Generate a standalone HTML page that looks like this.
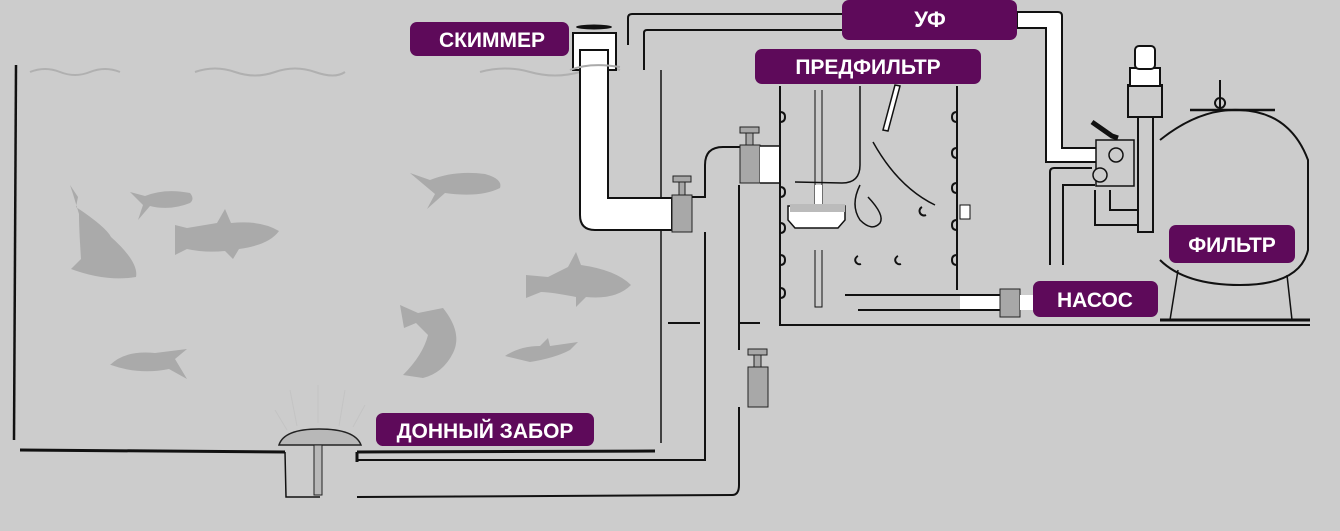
<!DOCTYPE html>
<html><head><meta charset="utf-8"><style>
html,body{margin:0;padding:0;background:#cccccc;}
svg{display:block}
.lb{font-family:"Liberation Sans",sans-serif;font-weight:bold;fill:#fff;}
</style></head><body>
<svg width="1340" height="531" viewBox="0 0 1340 531" xmlns="http://www.w3.org/2000/svg">
<rect width="1340" height="531" fill="#cccccc"/>
<g fill="none" stroke="#b0b0b0" stroke-width="2">
<path d="M30 72 q15-6 30 0 t30 0 t30 0"/>
<path d="M195 72 q20-7 40 0 t40 0 t40 0 t30 0"/>
<path d="M480 72 q25-7 50 0 t50 0 t40 -2"/>
</g>
<g fill="#aaaaaa">
<path d="M70 185 l8 12 l-2 10 q30 20 35 30 q28 25 25 40 q-30 5 -65 -8 l10 -10 q-2 -30 -2 -45 l-6 -20 z"/>
<path d="M130 192 l15 4 q20 -8 45 -3 q5 6 0 10 q-20 8 -40 3 l-12 14 l5 -15 z"/>
<path d="M175 225 l12 3 l30 -5 l8 -14 l6 14 q30 -3 48 8 q-10 14 -40 18 l-6 10 l-8 -8 q-20 2 -38 -2 l-12 6 z"/>
<path d="M410 173 l20 7 q25 -10 55 -6 q18 5 15 14 q-20 10 -55 5 l-18 16 l8 -15 z"/>
<path d="M526 275 l22 2 l20 -10 l8 -15 l5 13 q35 5 50 20 q-15 15 -45 12 l-10 10 l0 -10 q-25 -5 -35 -5 l-15 6 z"/>
<path d="M400 305 l18 8 l25 -5 q20 25 10 45 q-10 20 -30 25 l-20 -3 q20 -20 25 -40 l-12 -12 l-12 5 z"/>
<path d="M110 365 q15 -15 45 -12 l32 -4 l-12 10 l12 20 l-18 -10 q-30 6 -58 -4 z"/>
<path d="M505 356 q15 -10 35 -10 l8 -8 l2 8 l28 -4 l-8 8 q-15 8 -40 12 z"/>
</g>
<g stroke="#c4c4c4" stroke-width="1"><path d="M275 410 l12 20 M290 390 l7 36 M318 385 l0 38 M345 390 l-6 36 M365 405 l-12 22"/></g>
<g stroke="#111" fill="none">
<path d="M16 65 L14 440" stroke-width="2.5"/>
<path d="M20 450 L285 452" stroke-width="3"/>
<path d="M357 452 L655 451" stroke-width="3"/>
<path d="M285 452 L286 497 L320 497" stroke-width="1.5"/>
<path d="M357 452 L357 462" stroke-width="3"/>
</g>
<path d="M279 445 q5 -16 40 -16 q36 0 42 16 z" fill="#b8b8b8" stroke="#222" stroke-width="1.5"/>
<rect x="314" y="445" width="8" height="50" fill="#b8b8b8" stroke="#222" stroke-width="1"/>
<g stroke="#111" fill="none" stroke-width="2">
<path d="M357 460 L705 460 L705 232"/>
<path d="M357 497 L732 495 q7 0 7 -10 L739 407"/>
<path d="M739 350 L739 185"/>
<path d="M661 70 L661 443" stroke-width="1.5"/>
<path d="M668 323 L700 323 M740 323 L760 323" stroke-width="2"/>
</g>
<!-- skimmer -->
<ellipse cx="594" cy="27" rx="18" ry="2.5" fill="#111"/>
<rect x="573" y="33" width="43" height="37" fill="#fff" stroke="#111" stroke-width="2"/>
<path d="M580 50 L608 50 L608 198 L672 198 L672 230 L595 230 Q580 230 580 215 Z" fill="#fff" stroke="#111" stroke-width="2"/>
<path d="M570 70 q20 -8 50 -3" stroke="#aaa" stroke-width="2" fill="none"/>
<rect x="672" y="195" width="20" height="37" fill="#a8a8a8" stroke="#222"/>
<rect x="679" y="182" width="6" height="13" fill="#a8a8a8" stroke="#222"/>
<rect x="673" y="176" width="18" height="6" fill="#a8a8a8" stroke="#222"/>
<path d="M692 197 L705 197 L705 165 q0 -18 18 -18 L740 147" stroke="#111" stroke-width="2" fill="none"/>
<rect x="740" y="145" width="20" height="38" fill="#a8a8a8" stroke="#222"/>
<rect x="746" y="133" width="7" height="12" fill="#a8a8a8" stroke="#222"/>
<rect x="740" y="127" width="19" height="6" fill="#a8a8a8" stroke="#222"/>
<rect x="760" y="146" width="20" height="37" fill="#fff"/>
<path d="M760 146 L780 146 M760 183 L780 183" stroke="#111" stroke-width="1.5"/>
<rect x="748" y="367" width="20" height="40" fill="#a8a8a8" stroke="#222"/>
<rect x="754" y="355" width="7" height="12" fill="#a8a8a8" stroke="#222"/>
<rect x="748" y="349" width="19" height="6" fill="#a8a8a8" stroke="#222"/>
<g stroke="#111" fill="none" stroke-width="2">
<path d="M628 45 L628 18 q0 -4 4 -4 L842 14"/>
<path d="M644 70 L644 33 q0 -3 3 -3 L842 30"/>
</g>
<path d="M1017 12 L1058 12 q4 0 4 4 L1062 148 L1112 148 L1112 162 L1046 162 L1046 28 L1017 28 Z" fill="#fff" stroke="#111" stroke-width="2"/>
<g stroke="#111" fill="none" stroke-width="2">
<path d="M780 86 L780 325 L1310 325"/>
<path d="M957 86 L957 290"/>
<path d="M780 112 q5 0 5 5 t-5 5 M780 187 q5 0 5 5 t-5 5 M780 223 q5 0 5 5 t-5 5 M780 255 q5 0 5 5 t-5 5 M780 288 q5 0 5 5 t-5 5"/>
<path d="M957 112 q-5 0 -5 5 t5 5 M957 148 q-5 0 -5 5 t5 5 M957 183 q-5 0 -5 5 t5 5 M957 220 q-5 0 -5 5 t5 5 M957 255 q-5 0 -5 5 t5 5"/>
<path d="M860 86 L860 165 q0 18 -18 18 L795 182" stroke-width="1.5"/>
<path d="M873 142 q25 45 62 63" stroke-width="1.5"/>
<path d="M860 185 q-10 20 0 35 q12 12 20 3 q5 -8 -12 -26" stroke-width="1.5"/>
<path d="M922 207 a4 4 0 1 0 4 8 M858 256 a4 4 0 1 0 3 8 M898 256 a4 4 0 1 0 3 8"/>
<path d="M845 295 L1000 295 M858 310 L1000 310"/>
<path d="M815 90 L815 205 M822 90 L822 205 M815 250 L815 307 L822 307 L822 250" stroke-width="1"/>
</g>
<path d="M895 85 l-12 45 l5 1 l12 -45 z" fill="#fff" stroke="#111" stroke-width="1.5"/>
<rect x="815" y="185" width="7" height="20" fill="#fff"/>
<path d="M788 206 L845 206 L845 220 L838 228 L795 228 L788 220 Z" fill="#fff" stroke="#111" stroke-width="1.5"/>
<path d="M790 208 L845 208" stroke="#bbb" stroke-width="8"/>
<rect x="960" y="205" width="10" height="14" fill="#fff" stroke="#111"/>
<rect x="960" y="296" width="40" height="13" fill="#fff"/>
<rect x="1000" y="289" width="20" height="28" fill="#a8a8a8" stroke="#222"/>
<rect x="1020" y="295" width="15" height="15" fill="#fff"/>
<g stroke="#111" fill="none" stroke-width="2">
<path d="M1050 265 L1050 172 q0 -4 4 -4 L1092 168"/>
<path d="M1063 265 L1063 185 L1095 185"/>
<path d="M1095 190 L1095 225 L1138 225"/>
<path d="M1110 190 L1110 210 L1138 210"/>
</g>
<path d="M1160 140 Q1200 108 1240 110 Q1290 112 1308 160 L1308 250 Q1300 285 1240 285 Q1185 285 1160 260" fill="none" stroke="#111" stroke-width="2"/>
<path d="M1190 110 L1275 110" stroke="#111" stroke-width="2.5"/>
<path d="M1220 98 a5 5 0 1 0 0.1 0 M1220 80 L1220 110" stroke="#111" stroke-width="2" fill="none"/>
<path d="M1178 270 L1170 320 M1287 275 L1292 320" stroke="#111" stroke-width="1.5"/>
<path d="M1160 320 L1310 320" stroke="#111" stroke-width="3"/>
<path d="M1092 122 L1112 136 L1118 138" stroke="#111" stroke-width="5" fill="none"/>
<rect x="1096" y="140" width="38" height="46" fill="#cccccc" stroke="#111" stroke-width="1.5"/>
<circle cx="1116" cy="155" r="7" fill="#cccccc" stroke="#111" stroke-width="1.5"/>
<circle cx="1100" cy="175" r="7" fill="#cccccc" stroke="#111" stroke-width="1.5"/>
<rect x="1138" y="115" width="15" height="117" fill="#cccccc" stroke="#111" stroke-width="2"/>
<rect x="1128" y="85" width="34" height="32" fill="#cccccc" stroke="#111" stroke-width="2"/>
<rect x="1130" y="68" width="30" height="18" fill="#fff" stroke="#111" stroke-width="2"/>
<rect x="1135" y="46" width="20" height="23" rx="4" fill="#fff" stroke="#111" stroke-width="2"/>
<rect x="410" y="22" width="159" height="34" rx="7" fill="#5e0a5a"/>
<text class="lb" x="492" y="47" font-size="21" text-anchor="middle">СКИММЕР</text>
<rect x="842" y="0" width="175" height="40" rx="7" fill="#5e0a5a"/>
<text class="lb" x="930" y="27" font-size="22" text-anchor="middle">УФ</text>
<rect x="755" y="49" width="226" height="35" rx="7" fill="#5e0a5a"/>
<text class="lb" x="868" y="74" font-size="21" text-anchor="middle">ПРЕДФИЛЬТР</text>
<rect x="1169" y="225" width="126" height="38" rx="7" fill="#5e0a5a"/>
<text class="lb" x="1232" y="252" font-size="21" text-anchor="middle">ФИЛЬТР</text>
<rect x="1033" y="281" width="125" height="36" rx="7" fill="#5e0a5a"/>
<text class="lb" x="1095" y="307" font-size="21" text-anchor="middle">НАСОС</text>
<rect x="376" y="413" width="218" height="33" rx="7" fill="#5e0a5a"/>
<text class="lb" x="485" y="438" font-size="21" text-anchor="middle">ДОННЫЙ ЗАБОР</text>
</svg>
</body></html>
